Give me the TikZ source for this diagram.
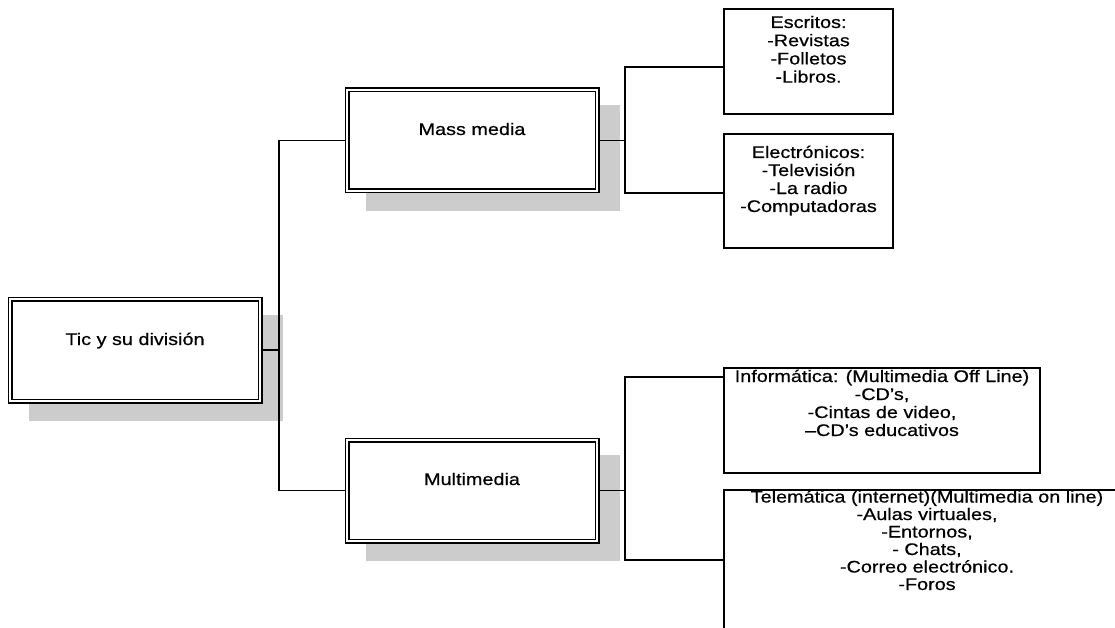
\documentclass[tikz,border=0pt]{standalone}
\usepackage{fontspec}
\setmainfont{Liberation Sans}[FakeStretch=1.18,FakeBold=0.6]
\usetikzlibrary{backgrounds}
\definecolor{shadowgray}{HTML}{CCCCCC}
\newcommand\bxtext[5]{\parbox[c][#2pt][t]{#1pt}{\fontsize{16.8}{#4pt}\selectfont\centering\rule{0pt}{#3pt}#5}}
\begin{document}
\begin{tikzpicture}[x=1pt,y=-1pt,
  dbl/.style={draw, line width=1.3pt, double, double distance=2.4pt, fill=white, inner sep=0pt, outer sep=0pt},
  sgl/.style={draw, line width=1.6pt, inner sep=0pt, outer sep=0pt},
  conn/.style={line width=1.6pt},
  shadowbox/.style={fill=shadowgray}]
\useasboundingbox (0,0) rectangle (1115,628);
\clip (0,0) rectangle (1115,628);
% main boxes
\node[dbl] (tic) at (135,350) {\bxtext{250}{102}{46}{17.5}{Tic y su división}};
\node[dbl] (mass) at (472,140.5) {\bxtext{250}{101}{45}{17.5}{Mass media}};
\node[dbl] (multi) at (472,490.5) {\bxtext{250}{101}{45}{17.5}{Multimedia}};
% leaf boxes
\node[sgl] (escr) at (808.5,61.5) {\bxtext{169}{105}{19}{18.2}{Escritos:\\-Revistas\\-Folletos\\-Libros.}};
\node[sgl] (elec) at (808.5,191) {\bxtext{169}{114}{24}{18}{Electrónicos:\\-Televisión\\-La radio\\-Computadoras}};
\node[sgl] (info) at (882,420.5) {\bxtext{316}{105}{14}{18}{Informática: (Multimedia Off Line)\\-CD’s,\\-Cintas de video,\\–CD’s educativos}};
\node[sgl] (tele) at (927,570) {\bxtext{406}{160}{12.5}{17.5}{Telemática (internet)(Multimedia on line)\\-Aulas virtuales,\\-Entornos,\\- Chats,\\-Correo electrónico.\\-Foros}};
% junction coordinates
\coordinate (j1) at (279,0);
\coordinate (j2) at (625,0);
\coordinate (e1) at ([yshift=-5.5pt]escr.west);
\coordinate (e2) at ([yshift=-2pt]elec.west);
\coordinate (i1) at ([yshift=-9pt]info.north west);
\coordinate (t1) at ([yshift=-70pt]tele.north west);
\begin{scope}[on background layer]
  \fill[shadowbox] ([shift={(19pt,-16pt)}]tic.north west) rectangle ([shift={(23pt,-20pt)}]tic.south east);
  \fill[shadowbox] ([shift={(19pt,-15pt)}]mass.north west) rectangle ([shift={(23pt,-20pt)}]mass.south east);
  \fill[shadowbox] ([shift={(19pt,-15pt)}]multi.north west) rectangle ([shift={(23pt,-20pt)}]multi.south east);
  \draw[conn] (tic.east) -- (tic.east -| j1);
  \draw[conn] (mass.west) -- (mass.west -| j1) -- (multi.west -| j1) -- (multi.west);
  \draw[conn] (mass.east) -- (mass.east -| j2);
  \draw[conn] (e1) -- (e1 -| j2) -- (e2 -| j2) -- (e2);
  \draw[conn] (multi.east) -- (multi.east -| j2);
  \draw[conn] (i1) -- (i1 -| j2) -- (t1 -| j2) -- (t1);
\end{scope}
\end{tikzpicture}
\end{document}
